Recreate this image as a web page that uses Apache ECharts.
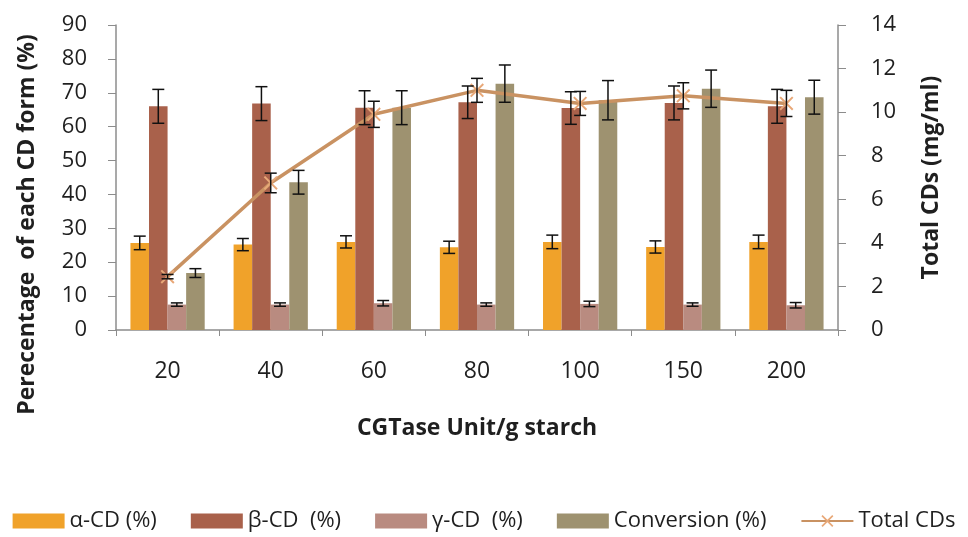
<!DOCTYPE html>
<html><head><meta charset="utf-8">
<script src="https://cdn.jsdelivr.net/npm/echarts@6/dist/echarts.min.js"></script>
<style>html,body{margin:0;padding:0;background:#fff}#c{width:968px;height:537px}</style>
</head><body><div id="c"></div>
<script>
const categories = ['20','40','60','80','100','150','200'];
const alphaCD = [25.7, 25.2, 26.0, 24.4, 26.0, 24.5, 26.0];
const alphaErr = [2.0, 1.8, 1.8, 1.8, 2.0, 1.8, 2.0];
const betaCD = [66.0, 66.8, 65.6, 67.2, 65.5, 67.0, 66.0];
const betaErr = [5.0, 5.0, 5.0, 4.8, 4.8, 5.0, 5.0];
const gammaCD = [7.5, 7.5, 7.9, 7.5, 7.7, 7.5, 7.3];
const gammaErr = [0.5, 0.5, 0.8, 0.5, 0.8, 0.5, 0.8];
const conversion = [16.8, 43.6, 65.6, 72.7, 67.8, 71.2, 68.7];
const convErr = [1.3, 3.5, 5.0, 5.5, 5.8, 5.5, 5.0];
const totalCDs = [2.45, 6.75, 9.9, 11.0, 10.4, 10.75, 10.4];
const totalErr = [0.1, 0.45, 0.6, 0.55, 0.55, 0.6, 0.6];

const font = 'Open Sans';
const txt = '#1f1f1f';
const axisCol = '#8c8c8c';
const colors = ['#f0a22a', '#a9614b', '#b98b80', '#9e9270', '#c99262'];

function errSeries(vals, errs, idx, yAxis) {
  return {
    type: 'custom', yAxisIndex: yAxis, z: 10, silent: true,
    data: vals.map((v, i) => [i, v, errs[i]]),
    renderItem: function (params, api) {
      const i = api.value(0), v = api.value(1), e = api.value(2);
      const catW = api.size([1, 0])[0];
      const barW = catW * (1 - 0.28) / 4;
      const off = idx < 0 ? 0 : (idx - 1.5) * barW;
      const top = api.coord([i, v + e]);
      const bot = api.coord([i, v - e]);
      const x = top[0] + off;
      const cap = 6;
      const st = { stroke: '#111', lineWidth: 1.5 };
      return { type: 'group', children: [
        { type: 'line', shape: { x1: x, y1: top[1], x2: x, y2: bot[1] }, style: st },
        { type: 'line', shape: { x1: x - cap, y1: top[1], x2: x + cap, y2: top[1] }, style: st },
        { type: 'line', shape: { x1: x - cap, y1: bot[1], x2: x + cap, y2: bot[1] }, style: st }
      ]};
    }
  };
}

const chart = echarts.init(document.getElementById('c'));
const barCommon = { type: 'bar', barGap: '0%', barCategoryGap: '28%' };
chart.setOption({
  animation: false,
  textStyle: { fontFamily: font },
  grid: { left: 116, right: 130, top: 25, bottom: 207 },
  legend: {
    bottom: 0, left: 'center', itemGap: 34, itemWidth: 52, itemHeight: 15,
    textStyle: { fontFamily: font, fontSize: 22, color: txt },
    data: [
      { name: 'α-CD (%)', icon: 'rect' },
      { name: 'β-CD  (%)', icon: 'rect' },
      { name: 'γ-CD  (%)', icon: 'rect' },
      { name: 'Conversion (%)', icon: 'rect' },
      { name: 'Total CDs' }
    ]
  },
  xAxis: {
    type: 'category', data: categories,
    name: 'CGTase Unit/g starch', nameLocation: 'middle', nameGap: 87,
    nameTextStyle: { fontFamily: font, fontWeight: 'bold', fontSize: 23, color: txt },
    axisLine: { lineStyle: { color: axisCol, width: 1.5 } },
    axisTick: { show: true, length: 6, lineStyle: { color: axisCol } },
    axisLabel: { fontFamily: font, fontSize: 23, color: txt, margin: 30 }
  },
  yAxis: [
    {
      type: 'value', min: 0, max: 90, interval: 10,
      name: 'Perecentage  of each CD form (%)', nameLocation: 'middle', nameGap: 77,
      nameTextStyle: { fontFamily: font, fontWeight: 'bold', fontSize: 23, color: txt, padding: [0, 94, 0, 0] },
      axisLine: { show: true, lineStyle: { color: axisCol, width: 1.5 } },
      axisTick: { show: true, length: 8, lineStyle: { color: axisCol } },
      axisLabel: { fontFamily: font, fontSize: 22, color: txt, margin: 29 },
      splitLine: { show: false }
    },
    {
      type: 'value', min: 0, max: 14, interval: 2, position: 'right',
      name: 'Total CDs (mg/ml)', nameLocation: 'middle', nameGap: 82, nameRotate: 90,
      nameTextStyle: { fontFamily: font, fontWeight: 'bold', fontSize: 23, color: txt },
      axisLine: { show: true, lineStyle: { color: axisCol, width: 1.5 } },
      axisTick: { show: true, length: 8, lineStyle: { color: axisCol } },
      axisLabel: { fontFamily: font, fontSize: 22, color: txt, margin: 33 },
      splitLine: { show: false }
    }
  ],
  series: [
    Object.assign({ name: 'α-CD (%)', data: alphaCD, itemStyle: { color: colors[0] } }, barCommon),
    Object.assign({ name: 'β-CD  (%)', data: betaCD, itemStyle: { color: colors[1] } }, barCommon),
    Object.assign({ name: 'γ-CD  (%)', data: gammaCD, itemStyle: { color: colors[2] } }, barCommon),
    Object.assign({ name: 'Conversion (%)', data: conversion, itemStyle: { color: colors[3] } }, barCommon),
    {
      name: 'Total CDs', type: 'line', yAxisIndex: 1, data: totalCDs, z: 5,
      symbol: 'path://M0,1 L1,0 L5,4 L9,0 L10,1 L6,5 L10,9 L9,10 L5,6 L1,10 L0,9 L4,5 Z',
      symbolSize: 14,
      lineStyle: { color: colors[4], width: 3.5 },
      itemStyle: { color: '#e8a878' }
    },
    errSeries(alphaCD, alphaErr, 0, 0),
    errSeries(betaCD, betaErr, 1, 0),
    errSeries(gammaCD, gammaErr, 2, 0),
    errSeries(conversion, convErr, 3, 0),
    errSeries(totalCDs, totalErr, -1, 1)
  ]
});
</script></body></html>
